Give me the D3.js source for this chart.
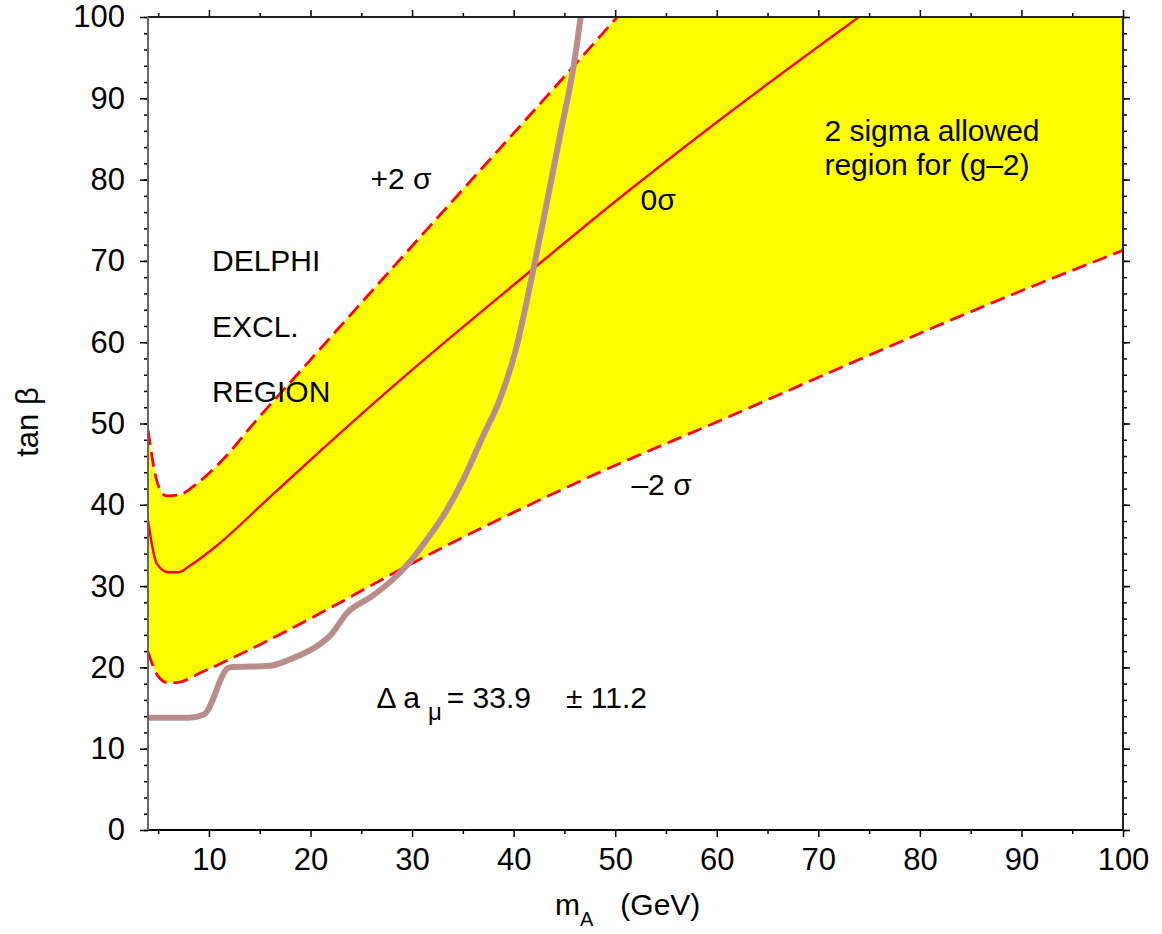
<!DOCTYPE html>
<html>
<head>
<meta charset="utf-8">
<script src="https://cdn.jsdelivr.net/npm/d3@7"></script>
<style>
  body { margin: 0; background: #fff; }
  text { font-family: "Liberation Sans", Arial, sans-serif; fill: #000; }
</style>
</head>
<body>
<div id="my_dataviz"></div>
<script>
// tick values
var mA_ticks = [10, 20, 30, 40, 50, 60, 70, 80, 90, 100];
var mA_minor = [5, 15, 25, 35, 45, 55, 65, 75, 85, 95];
var tanb_ticks = [0, 10, 20, 30, 40, 50, 60, 70, 80, 90, 100];
var tanb_minor = d3.range(0, 101, 2);

// +2 sigma boundary
var plus2_mA   = [4, 5, 5.8, 7, 8.8, 11.4, 14.6, 18.9, 24.4, 33.5, 42.3, 50.2];
var plus2_tanb = [49.2, 42.4, 41.1, 41.2, 42.6, 45.6, 50.3, 56.3, 64.0, 76.7, 88.9, 100];

// central value (0 sigma)
var zero_mA   = [4, 4.85, 6, 7, 8, 10.8, 15.7, 20.6, 28.8, 41.9, 50.1, 61.2, 74];
var zero_tanb = [38.1, 32.8, 31.7, 31.7, 32.4, 35.0, 40.6, 46.2, 55.3, 69.0, 77.4, 88.2, 100];

// -2 sigma boundary
var minus2_mA   = [4, 5, 6, 7.1, 9.1, 15, 22.2, 28.5, 48.3, 60.4, 73.9, 87.8, 100];
var minus2_tanb = [21.9, 18.9, 18.1, 18.2, 19.3, 22.8, 27.5, 31.8, 43.9, 50.4, 57.8, 65.2, 71.3];

// DELPHI exclusion limit
var delphi_mA   = [4, 8, 9.5, 12, 16, 18, 20.5, 22, 23.6, 26, 28, 29.8, 31.5, 33, 35, 37, 38.5, 40.2, 42, 43.2, 44.5, 46, 46.6];
var delphi_tanb = [13.8, 13.8, 14.2, 20, 20.2, 21, 22.5, 24, 26.7, 28.7, 30.7, 33, 35.8, 38.5, 43, 48.5, 52.5, 59, 69.3, 76.7, 85, 94.7, 100];

var margin = { top: 17, right: 39, bottom: 104, left: 148 },
    width = 1162 - margin.left - margin.right,
    height = 934 - margin.top - margin.bottom;

var svg = d3.select("#my_dataviz")
    .append("svg")
    .attr("width", width + margin.left + margin.right)
    .attr("height", height + margin.top + margin.bottom)
    .append("g")
    .attr("transform", "translate(" + margin.left + "," + margin.top + ")");

var x = d3.scaleLinear().domain([4, 100]).range([0, width]);
var y = d3.scaleLinear().domain([0, 100]).range([height, 0]);

function pts(xs, ys) {
    return xs.map(function (d, i) { return [d, ys[i]]; });
}

var line = d3.line()
    .x(function (d) { return x(d[0]); })
    .y(function (d) { return y(d[1]); })
    .curve(d3.curveMonotoneX);

var upper = pts(plus2_mA, plus2_tanb),
    mid = pts(zero_mA, zero_tanb),
    lower = pts(minus2_mA, minus2_tanb),
    delphi = pts(delphi_mA, delphi_tanb);

svg.append("clipPath").attr("id", "clip")
    .append("rect").attr("width", width).attr("height", height);

var plot = svg.append("g").attr("clip-path", "url(#clip)");

// allowed band: upper edge, top-right corner, lower edge back
var corner = [x.domain()[1], y.domain()[1]];
var bandPath = line(upper) + "L" + x(corner[0]) + "," + y(corner[1]) +
    line(lower.slice().reverse()).replace(/^M/, "L") + "Z";

plot.append("path")
    .attr("d", bandPath)
    .style("fill", "#ffff00")
    .style("stroke", "none");

[upper, lower].forEach(function (c) {
    plot.append("path")
        .attr("d", line(c))
        .style("fill", "none")
        .style("stroke", "#ff0000")
        .attr("stroke-width", 2.8)
        .attr("stroke-dasharray", "15,7");
});

plot.append("path")
    .attr("d", line(mid))
    .style("fill", "none")
    .style("stroke", "#ff0000")
    .attr("stroke-width", 2.4);

plot.append("path")
    .attr("d", line(delphi))
    .style("fill", "none")
    .style("stroke", "#bb8e8e")
    .attr("stroke-width", 6)
    .attr("stroke-linejoin", "round");

plot.append("path")
    .attr("d", line(delphi))
    .style("fill", "none")
    .style("stroke", "#a47878")
    .attr("stroke-width", 2)
    .attr("stroke-dasharray", "1,3")
    .style("opacity", 0.4);

// axes
function styleAxis(g, color) {
    g.select(".domain").remove();
    g.selectAll(".tick line").style("stroke", color).attr("stroke-width", 1.5);
    g.selectAll(".tick text").style("font-size", "31px").style("font-family", "'Liberation Sans', Arial, sans-serif");
}

svg.append("g").attr("transform", "translate(0," + height + ")")
    .call(d3.axisBottom(x).tickValues(mA_ticks).tickSize(7).tickPadding(11))
    .call(styleAxis, "#000");
svg.append("g").attr("transform", "translate(0," + height + ")")
    .call(d3.axisBottom(x).tickValues(mA_minor).tickSize(4).tickFormat(""))
    .call(styleAxis, "#000");

svg.append("g")
    .call(d3.axisTop(x).tickValues(mA_ticks).tickSize(7).tickFormat(""))
    .call(styleAxis, "#000");
svg.append("g")
    .call(d3.axisTop(x).tickValues(mA_minor).tickSize(4).tickFormat(""))
    .call(styleAxis, "#000");

svg.append("g")
    .call(d3.axisLeft(y).tickValues(tanb_ticks).tickSize(8).tickPadding(15))
    .call(styleAxis, "#000");
svg.append("g")
    .call(d3.axisLeft(y).tickValues(tanb_minor).tickSize(4).tickFormat(""))
    .call(styleAxis, "#000");

svg.append("g").attr("transform", "translate(" + width + ",0)")
    .call(d3.axisRight(y).tickValues(tanb_ticks).tickSize(7).tickFormat(""))
    .call(styleAxis, "#000");
svg.append("g").attr("transform", "translate(" + width + ",0)")
    .call(d3.axisRight(y).tickValues(tanb_minor).tickSize(4).tickFormat(""))
    .call(styleAxis, "#000");

// frame
svg.append("line").attr("x1", 0).attr("x2", width).attr("y1", height).attr("y2", height)
    .style("stroke", "#000").attr("stroke-width", 2);
svg.append("line").attr("x1", 0).attr("x2", width).attr("y1", 0).attr("y2", 0)
    .style("stroke", "#222").attr("stroke-width", 2);
svg.append("line").attr("x1", 0).attr("x2", 0).attr("y1", 0).attr("y2", height)
    .style("stroke", "#666").attr("stroke-width", 2);
svg.append("line").attr("x1", width).attr("x2", width).attr("y1", 0).attr("y2", height)
    .style("stroke", "#222").attr("stroke-width", 2);

// axis titles
var xt = svg.append("text")
    .attr("x", 555 - margin.left)
    .attr("y", height + 85)
    .style("font-size", "30px");
xt.append("tspan").text("m");
xt.append("tspan").attr("dy", 11).style("font-size", "20px").text("A");
xt.append("tspan").attr("dy", -11).attr("dx", 27).text("(GeV)");

svg.append("text")
    .attr("transform", "translate(" + (38 - margin.left) + "," + (422 - margin.top) + ") rotate(-90)")
    .attr("text-anchor", "middle")
    .style("font-size", "31px")
    .text("tan β");

// annotations
function note(mx, tb, str) {
    return svg.append("text")
        .attr("x", x(mx))
        .attr("y", y(tb))
        .style("font-size", "30px")
        .style("white-space", "pre")
        .text(str);
}

note(10.3, 68.7, "DELPHI");
note(10.3, 60.7, "EXCL.");
note(10.3, 52.7, "REGION");
note(25.9, 78.8, "+2 σ");
note(52.5, 76.3, "0σ");
note(51.6, 41.2, "–2 σ");
note(70.6, 84.7, "2 sigma allowed");
note(70.6, 80.6, "region for (g–2)");

var da = note(26.5, 15.0, "Δ a");
da.append("tspan").attr("dx", 8).attr("dy", 12).style("font-size", "24px").text("μ");
da.append("tspan").attr("dx", 5).attr("dy", -12).text("= 33.9");
da.append("tspan").attr("dx", 35).text("± 11.2");
</script>
</body>
</html>
